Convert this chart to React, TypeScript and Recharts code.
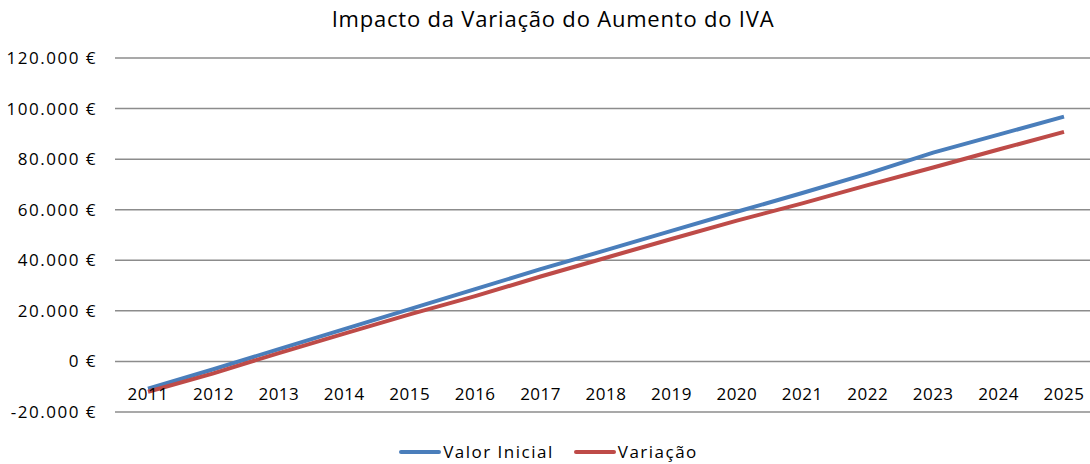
import { LineChart, Line, XAxis, YAxis, CartesianGrid, Legend } from "recharts"

const YEARS = ["2011", "2012", "2013", "2014", "2015", "2016", "2017", "2018", "2019", "2020", "2021", "2022", "2023", "2024", "2025"]
const VALOR_INICIAL = [-10800, -3100, 4900, 12800, 20700, 28600, 36500, 44000, 51600, 59200, 66600, 74300, 82600, 89700, 96800]
const VARIACAO = [-12000, -4700, 3300, 11000, 18600, 25800, 33600, 41000, 48400, 55700, 62500, 69700, 76700, 83800, 90800]
const Y_TICKS = [-20000, 0, 20000, 40000, 60000, 80000, 100000, 120000]

const SERIES = [
  { key: "inicial", name: "Valor Inicial", color: "#4a7ebb" },
  { key: "variacao", name: "Variação", color: "#be4b48" },
]

const data = YEARS.map((year, i) => ({
  year,
  inicial: VALOR_INICIAL[i],
  variacao: VARIACAO[i],
}))

const FONT = "'Open Sans', sans-serif"

function formatEuro(v: number) {
  const sign = v < 0 ? "-" : ""
  const digits = String(Math.abs(v)).replace(/\B(?=(\d{3})+(?!\d))/g, ".")
  return `${sign}${digits} €`
}

function YearTick({ x, y, payload }: { x?: number; y?: number; payload?: { value: string } }) {
  return (
    <text x={x} y={(y ?? 0) - 12} textAnchor="middle" fontSize={17} letterSpacing={0.5} fill="#000" fontFamily={FONT}>
      {payload?.value}
    </text>
  )
}

function LegendContent() {
  return (
    <div style={{ display: "flex", justifyContent: "center", gap: 20, fontFamily: FONT, fontSize: 17, letterSpacing: 1.5, color: "#000" }}>
      {SERIES.map((s) => (
        <div key={s.key} style={{ display: "flex", alignItems: "center" }}>
          <svg width={42} height={10}>
            <line x1={2} y1={5} x2={40} y2={5} stroke={s.color} strokeWidth={4} strokeLinecap="round" />
          </svg>
          <span style={{ marginLeft: 2 }}>{s.name}</span>
        </div>
      ))}
    </div>
  )
}

export default function App() {
  return (
    <div style={{ position: "absolute", left: 0, top: 0, width: 1090, height: 464, overflow: "hidden", background: "#fff" }}>
      <div
        style={{
          position: "absolute",
          top: 3,
          left: 0,
          width: 1106,
          textAlign: "center",
          fontFamily: FONT,
          fontSize: 22,
          letterSpacing: 0.8,
          color: "#000",
        }}
      >
        Impacto da Variação do Aumento do IVA
      </div>
      <LineChart width={1106} height={464} data={data} margin={{ top: 58, right: 9, bottom: 0, left: 0 }}>
        <CartesianGrid vertical={false} stroke="#8c8c8c" strokeWidth={1.5} />
        <XAxis
          dataKey="year"
          height={30}
          padding={{ left: 33, right: 33 }}
          axisLine={false}
          tickLine={false}
          tickSize={0}
          tickMargin={0}
          tick={<YearTick />}
          interval={0}
        />
        <YAxis
          width={115}
          domain={[-20000, 120000]}
          ticks={Y_TICKS}
          tickFormatter={formatEuro}
          axisLine={false}
          tickLine={false}
          tickSize={0}
          tickMargin={18}
          tick={{ fill: "#000", fontSize: 17, letterSpacing: 1.5, fontFamily: FONT }}
        />
        {SERIES.map((s) => (
          <Line
            key={s.key}
            dataKey={s.key}
            name={s.name}
            stroke={s.color}
            strokeWidth={4}
            dot={false}
            type="linear"
            isAnimationActive={false}
          />
        ))}
        <Legend verticalAlign="bottom" height={22} content={<LegendContent />} wrapperStyle={{ bottom: 2 }} />
      </LineChart>
    </div>
  )
}
